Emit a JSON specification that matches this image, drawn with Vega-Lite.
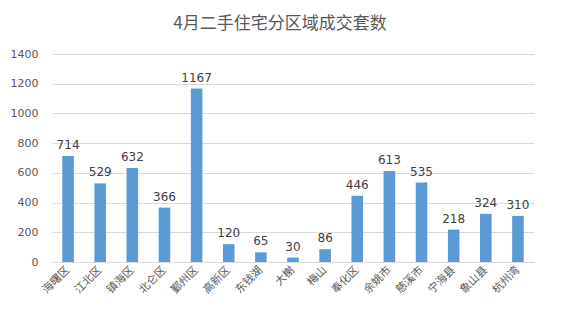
{
  "$schema": "https://vega.github.io/schema/vega-lite/v6.json",
  "autosize": {"type": "none"},
  "width": 482,
  "height": 208,
  "padding": {"left": 52, "top": 54, "right": 28, "bottom": 60},
  "background": "white",
  "title": {
    "text": "4月二手住宅分区域成交套数",
    "fontSize": 17,
    "font": "Noto Sans CJK SC",
    "fontWeight": "normal",
    "color": "#595959",
    "anchor": "middle",
    "dx": -13,
    "offset": 15
  },
  "data": {
    "values": [
      {"district": "海曙区", "count": 714},
      {"district": "江北区", "count": 529},
      {"district": "镇海区", "count": 632},
      {"district": "北仑区", "count": 366},
      {"district": "鄞州区", "count": 1167},
      {"district": "高新区", "count": 120},
      {"district": "东钱湖", "count": 65},
      {"district": "大榭", "count": 30},
      {"district": "梅山", "count": 86},
      {"district": "奉化区", "count": 446},
      {"district": "余姚市", "count": 613},
      {"district": "慈溪市", "count": 535},
      {"district": "宁海县", "count": 218},
      {"district": "象山县", "count": 324},
      {"district": "杭州湾", "count": 310}
    ]
  },
  "encoding": {
    "x": {
      "field": "district",
      "type": "nominal",
      "sort": null,
      "scale": {"paddingInner": 0.64, "paddingOuter": 0.32},
      "axis": {
        "title": null,
        "labelAngle": -45,
        "labelAlign": "right",
        "labelBaseline": "middle",
        "labelFont": "Noto Sans CJK SC",
        "labelFontSize": 11,
        "labelColor": "#595959",
        "ticks": false,
        "domainColor": "#d9d9d9",
        "labelPadding": 6
      }
    },
    "y": {
      "field": "count",
      "type": "quantitative",
      "scale": {"domain": [0, 1400]},
      "axis": {
        "title": null,
        "format": "d",
        "values": [0, 200, 400, 600, 800, 1000, 1200, 1400],
        "domain": false,
        "ticks": false,
        "gridColor": "#d9d9d9",
        "labelColor": "#595959",
        "labelFont": "DejaVu Sans",
        "labelFontSize": 11,
        "labelPadding": 14
      }
    }
  },
  "layer": [
    {"mark": {"type": "bar", "color": "#5b9bd5"}},
    {
      "mark": {"type": "text", "dy": -11, "fontSize": 12, "color": "#404040", "font": "DejaVu Sans"},
      "encoding": {"text": {"field": "count", "type": "quantitative", "format": "d"}}
    }
  ],
  "config": {"view": {"stroke": null}}
}
